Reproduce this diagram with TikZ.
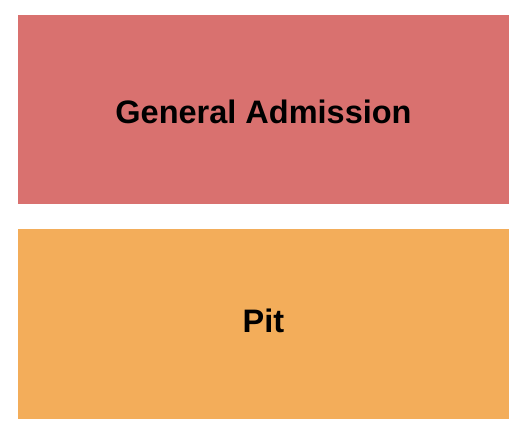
\documentclass[tikz,border=0pt]{standalone}
\usepackage{fontspec}
\setmainfont{Liberation Sans}
\definecolor{garea}{HTML}{D9716F}
\definecolor{parea}{HTML}{F3AD5A}
\begin{document}
\begin{tikzpicture}[x=1pt,y=1pt,
  area/.style={draw=none, inner sep=0pt, outer sep=0pt, minimum width=491pt},
  lbl/.style={font=\fontsize{32.5}{36}\selectfont\bfseries, text=black, anchor=base, inner sep=0pt}]
\useasboundingbox[fill=white] (0,0) rectangle (525,-432);
\node[area, fill=garea, minimum height=189.3pt] (gabox) at (263.5,-109.65) {};
\node[area, fill=parea, minimum height=190pt] (pitbox) at (263.5,-324) {};
\node[lbl] (ga) at (263.5,-123.3) {General Admission};
\node[lbl] (pit) at (263.5,-332.3) {Pit};
\end{tikzpicture}
\end{document}
